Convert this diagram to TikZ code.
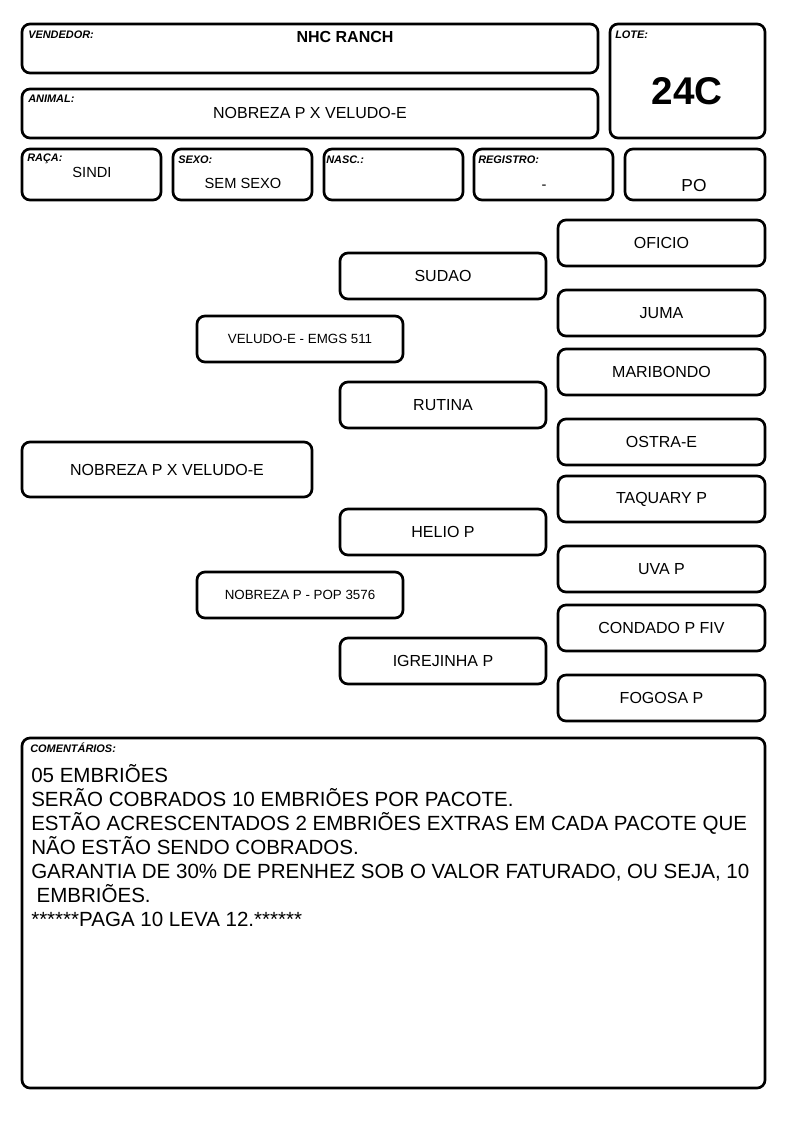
\documentclass[tikz,border=0pt]{standalone}
\usepackage{fontspec}
\setmainfont{Liberation Sans}
\tikzset{
  box/.style 2 args={draw, rounded corners=6pt, line width=2pt, inner sep=0pt,
    minimum width=#1*0.75pt, minimum height=#2*0.75pt, font=\fontsize{12}{14}\selectfont},
  tag/.style={anchor=west, inner sep=0pt, font=\bfseries\itshape\fontsize{8.2}{9}\selectfont},
  val/.style={inner sep=0pt, font=\fontsize{11}{13}\selectfont},
}
\begin{document}
\begin{tikzpicture}[x=0.75pt, y=-0.75pt]
  \useasboundingbox (0,0) rectangle (794,1123);
  % header
  \node[box={576}{49}] (vendedor) at (310,48.5) {};
  \node[box={576}{49}] (animal) at (310,113.5) {};
  \node[box={155}{114}] (lote) at (687.5,81) {};
  \node[box={139}{51}] (raca) at (91.5,174.5) {};
  \node[box={139}{51}] (sexo) at (242.5,174.5) {};
  \node[box={139}{51}] (nasc) at (393.5,174.5) {};
  \node[box={139}{51}] (registro) at (543.5,174.5) {};
  \node[box={140}{51}] (po) at (695,174.5) {};
  \node[tag] (vendedortag) at (28,35) {VENDEDOR:};
  \node[val, font=\bfseries\fontsize{12}{14}\selectfont] (vendedorval) at (345,37) {NHC RANCH};
  \node[tag] (animaltag) at (28,99) {ANIMAL:};
  \node[val, font=\fontsize{12}{14}\selectfont] (animalval) at (310,113) {NOBREZA P X VELUDO-E};
  \node[tag] (lotetag) at (615,35) {LOTE:};
  \node[val, font=\bfseries\fontsize{29}{32}\selectfont] (loteval) at (687,91) {24C};
  \node[tag] (racatag) at (27,159) {RAÇA:};
  \node[val] (racaval) at (92,172) {SINDI};
  \node[tag] (sexotag) at (178,160) {SEXO:};
  \node[val] (sexoval) at (243,183) {SEM SEXO};
  \node[tag] (nasctag) at (326,160) {NASC.:};
  \node[tag] (registrotag) at (478,160) {REGISTRO:};
  \node[val] (registroval) at (544,187) {-};
  \node[val, font=\fontsize{13}{15}\selectfont] (poval) at (694,186) {PO};
  % pedigree
  \node[box={290}{55}] (animalped) at (167,469.5) {NOBREZA P X VELUDO-E};
  \node[box={206}{46}, font=\fontsize{10}{12}\selectfont] (pai) at (300,339) {VELUDO-E - EMGS 511};
  \node[box={206}{46}, font=\fontsize{10}{12}\selectfont] (mae) at (300,595) {NOBREZA P - POP 3576};
  \node[box={206}{46}] (avo1) at (443,276) {SUDAO};
  \node[box={206}{46}] (avo2) at (443,405) {RUTINA};
  \node[box={206}{46}] (avo3) at (443,532) {HELIO P};
  \node[box={206}{46}] (avo4) at (443,661) {IGREJINHA P};
  \node[box={207}{46}] (bisavo1) at (661.5,243) {OFICIO};
  \node[box={207}{46}] (bisavo2) at (661.5,313) {JUMA};
  \node[box={207}{46}] (bisavo3) at (661.5,372) {MARIBONDO};
  \node[box={207}{46}] (bisavo4) at (661.5,442) {OSTRA-E};
  \node[box={207}{46}] (bisavo5) at (661.5,499) {TAQUARY P};
  \node[box={207}{46}] (bisavo6) at (661.5,569) {UVA P};
  \node[box={207}{46}] (bisavo7) at (661.5,628) {CONDADO P FIV};
  \node[box={207}{46}] (bisavo8) at (661.5,698) {FOGOSA P};
  % comments
  \node[box={743}{350}] (comentarios) at (393.5,913) {};
  \node[tag] (comentariostag) at (30,748) {COMENTÁRIOS:};
  \node[anchor=north west, inner sep=0pt, align=left, font=\fontsize{15.4}{18}\selectfont] (comentariosval) at (31,764)
    {05 EMBRIÕES\\SERÃO COBRADOS 10 EMBRIÕES POR PACOTE.\\ESTÃO ACRESCENTADOS 2 EMBRIÕES EXTRAS EM CADA PACOTE QUE\\NÃO ESTÃO SENDO COBRADOS.\\GARANTIA DE 30\% DE PRENHEZ SOB O VALOR FATURADO, OU SEJA, 10\\\hspace*{4pt}EMBRIÕES.\\******PAGA 10 LEVA 12.******};
\end{tikzpicture}
\end{document}
